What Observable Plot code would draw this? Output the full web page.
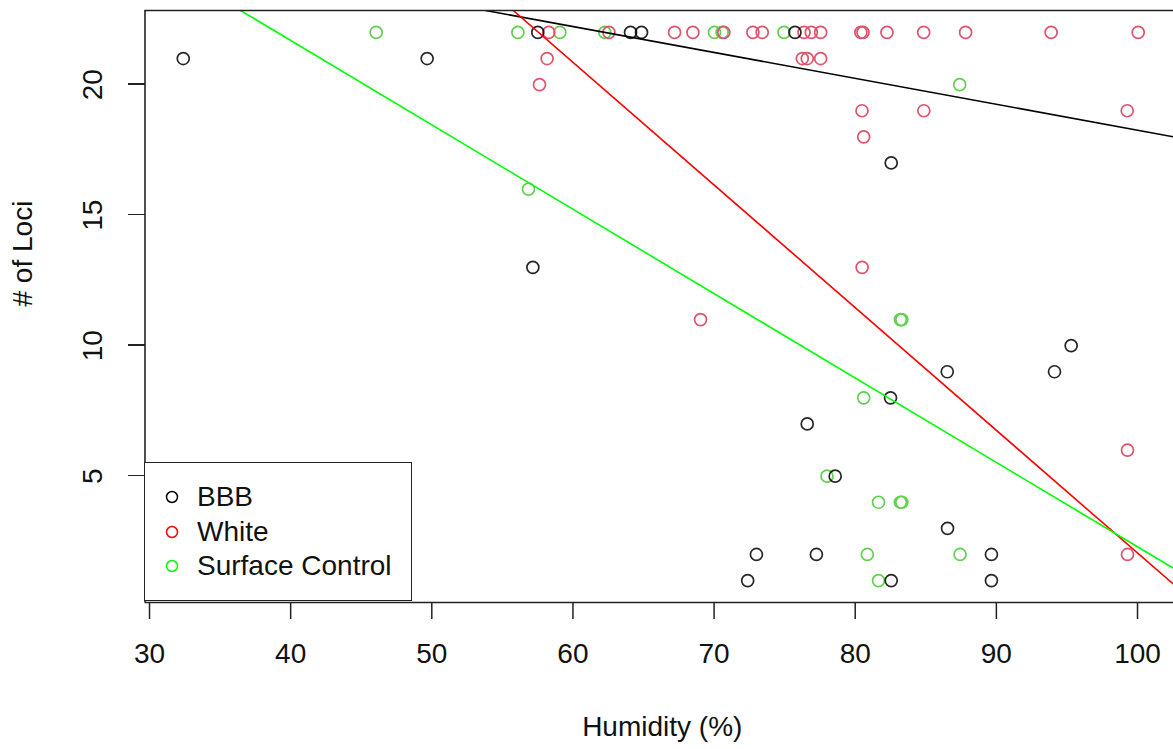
<!DOCTYPE html>
<html>
<head>
<meta charset="utf-8">
<script src="https://cdn.jsdelivr.net/npm/d3@7"></script>
<script src="https://cdn.jsdelivr.net/npm/@observablehq/plot@0.6"></script>
<style>
  html, body { margin: 0; padding: 0; background: #fff; }
  #wrap { position: relative; width: 1173px; height: 749px; overflow: hidden; font-family: "Liberation Sans", Arial, sans-serif; }
  #legend { position: absolute; left: 144px; top: 462px; width: 268px; height: 139px; border: 1.5px solid #222; background: #fff; box-sizing: border-box; }
  .row { position: absolute; left: 0; height: 34px; }
  .row svg { position: absolute; left: 19px; top: 0; }
  .row span { position: absolute; left: 52px; font-size: 28px; color: #111; white-space: nowrap; line-height: 34px; top: 0; }
  .ytick { position: absolute; height: 1.6px; background: #222; }
</style>
</head>
<body>
<div id="wrap"><div id="chart"></div><div id="legend"></div></div>
<script>
// ---- data ----
const groups = ["BBB", "White", "Surface Control"];
const pointColors = ["#000000", "#DF536B", "#61D04F"];
const lineColors = ["#000000", "#FF0000", "#00FF00"];

const bbbX = [32.39, 49.67, 57.51, 64.08, 64.86, 75.73, 82.55, 57.16, 86.52, 95.3, 94.12, 82.5, 76.6, 78.58, 86.54, 73.0, 77.25, 89.65, 72.38, 82.55, 89.65];
const bbbY = [21, 21, 22, 22, 22, 22, 17, 13, 9, 10, 9, 8, 7, 5, 3, 2, 2, 2, 1, 1, 1];

const whiteX = [58.29, 62.55, 67.2, 68.5, 70.69, 72.75, 73.41, 76.37, 76.89, 77.55, 80.4, 80.55, 82.25, 84.85, 87.82, 93.88, 100.05,
                58.17, 76.25, 76.6, 77.55, 57.63, 80.48, 84.86, 99.27, 80.6, 80.49, 69.04, 99.29, 99.29];
const whiteY = [22, 22, 22, 22, 22, 22, 22, 22, 22, 22, 22, 22, 22, 22, 22, 22, 22,
                21, 21, 21, 21, 20, 19, 19, 19, 18, 13, 11, 6, 2];

const surfX = [46.06, 56.1, 59.07, 62.26, 70.03, 70.57, 74.95, 87.4, 56.85, 83.2, 83.3, 80.6, 78.0, 81.65, 83.2, 83.3, 80.86, 87.43, 81.65];
const surfY = [22, 22, 22, 22, 22, 22, 22, 20, 16, 11, 11, 8, 5, 4, 4, 4, 2, 2, 1];

// fitted lines, two points each
const lineX1 = [53.8, 55.77, 36.45];
const lineY1 = [22.84, 22.84, 22.84];
const lineX2 = [102.55, 102.55, 102.55];
const lineY2 = [18.0, 0.86, 1.47];

const xTicks = [30, 40, 50, 60, 70, 80, 90, 100];
const yTicks = [5, 10, 15, 20];
const xDomain = [29.68, 102.55];
const yDomain = [0.16, 22.84];

// ---- layout ----
const W = 1173, H = 749, mL = 144.5, mR = 0, mT = 10, mB = 147;
const tickLen = 17;

// ---- build tables ----
const toRows = (xs, ys) => xs.map((x, i) => ({x, y: ys[i]}));
const bbb = toRows(bbbX, bbbY);
const white = toRows(whiteX, whiteY);
const surf = toRows(surfX, surfY);
const lines = groups.map((g, i) => [
  {g, x: lineX1[i], y: lineY1[i]},
  {g, x: lineX2[i], y: lineY2[i]}
]);

const chart = Plot.plot({
  width: W,
  height: H,
  marginLeft: mL,
  marginRight: mR,
  marginTop: mT,
  marginBottom: mB,
  x: {domain: xDomain},
  y: {domain: yDomain, axis: null},
  style: {fontFamily: "'Liberation Sans', Arial, sans-serif", fontSize: "28px", color: "#111", background: "#fff", overflow: "visible"},
  marks: [
    Plot.dot(surf, {x: "x", y: "y", r: 6, stroke: pointColors[2], strokeWidth: 1.7, fill: "none"}),
    Plot.dot(white, {x: "x", y: "y", r: 6, stroke: pointColors[1], strokeWidth: 1.7, fill: "none"}),
    Plot.dot(bbb, {x: "x", y: "y", r: 6, stroke: pointColors[0], strokeWidth: 1.7, fill: "none", strokeOpacity: 0.85}),
    ...lines.map((l, i) => Plot.line(l, {x: "x", y: "y", stroke: lineColors[i], strokeWidth: 1.6, clip: true})),
    Plot.ruleY([yDomain[1]], {stroke: "#222", strokeWidth: 1.6}),
    Plot.ruleY([yDomain[0]], {stroke: "#222", strokeWidth: 1.6}),
    Plot.ruleX([xDomain[0]], {stroke: "#222", strokeWidth: 1.6}),
    Plot.axisX(xTicks, {tickSize: tickLen, tickPadding: 24, label: null, stroke: "#222", strokeWidth: 1.5, fill: "#111"}),
    Plot.text(yTicks, {y: d => d, frameAnchor: "left", dx: -51.5, rotate: -90, textAnchor: "middle", fill: "#111"}),
    Plot.text(["Humidity (%)"], {frameAnchor: "bottom", dy: 133, dx: 3, fill: "#111"}),
    Plot.text(["# of Loci"], {frameAnchor: "left", dx: -121.5, rotate: -90, fill: "#111"})
  ]
});
document.getElementById("chart").appendChild(chart);

// y-axis tick lines, positioned with the plot's own y scale (overlay)
const wrap = document.getElementById("wrap");
const yScale = chart.scale("y");
yTicks.forEach(t => {
  const d = document.createElement("div");
  d.className = "ytick";
  d.style.left = (mL - tickLen) + "px";
  d.style.width = tickLen + "px";
  d.style.top = (yScale.apply(t) - 0.8) + "px";
  wrap.appendChild(d);
});

// ---- legend ----
const legend = document.getElementById("legend");
const rowTops = [17, 52, 86];
groups.forEach((gname, i) => {
  const row = document.createElement("div");
  row.className = "row";
  row.style.top = rowTops[i] + "px";
  row.innerHTML = `<svg width="16" height="34" viewBox="0 0 16 34"><circle cx="8" cy="17" r="5.5" fill="none" stroke="${lineColors[i]}" stroke-width="1.5"/></svg><span>${gname}</span>`;
  legend.appendChild(row);
});
</script>
</body>
</html>
